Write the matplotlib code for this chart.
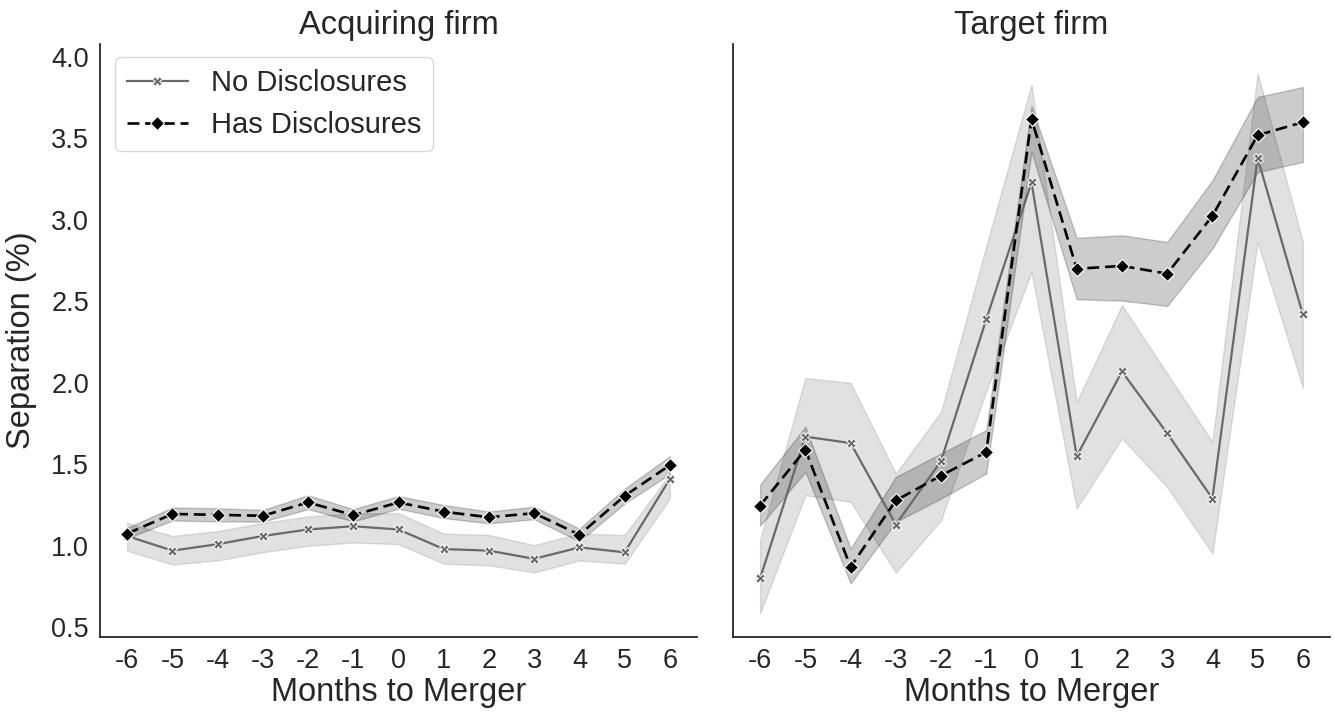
import matplotlib
matplotlib.use("Agg")
import matplotlib.pyplot as plt
import numpy as np

plt.rcParams['font.family'] = ['Liberation Sans', 'DejaVu Sans']

months = [-6, -5, -4, -3, -2, -1, 0, 1, 2, 3, 4, 5, 6]

# Acquiring firm: mean separation and confidence band
acq_none = [1.06, 0.97, 1.01, 1.06, 1.10, 1.12, 1.10, 0.98, 0.97, 0.92, 0.99, 0.96, 1.41]
acq_none_lo = [0.97, 0.885, 0.91, 0.96, 1.00, 1.02, 1.01, 0.89, 0.88, 0.836, 0.91, 0.89, 1.29]
acq_none_hi = [1.14, 1.06, 1.09, 1.14, 1.18, 1.20, 1.20, 1.075, 1.066, 1.004, 1.075, 1.066, 1.44]
acq_has = [1.075, 1.195, 1.19, 1.184, 1.266, 1.188, 1.266, 1.209, 1.175, 1.20, 1.068, 1.306, 1.495]
acq_has_lo = [1.045, 1.155, 1.15, 1.148, 1.225, 1.15, 1.228, 1.17, 1.138, 1.163, 1.028, 1.26, 1.44]
acq_has_hi = [1.11, 1.235, 1.23, 1.22, 1.31, 1.225, 1.305, 1.25, 1.21, 1.24, 1.105, 1.35, 1.55]

# Target firm: mean separation and confidence band
tgt_none = [0.80, 1.67, 1.63, 1.13, 1.52, 2.39, 3.23, 1.55, 2.07, 1.69, 1.29, 3.38, 2.42]
tgt_none_lo = [0.585, 1.31, 1.27, 0.836, 1.157, 1.95, 2.68, 1.23, 1.66, 1.36, 0.953, 2.865, 1.97]
tgt_none_hi = [1.035, 2.03, 2.00, 1.444, 1.822, 2.84, 3.83, 1.883, 2.477, 2.057, 1.638, 3.90, 2.865]
tgt_has = [1.247, 1.59, 0.87, 1.278, 1.431, 1.575, 3.62, 2.70, 2.718, 2.67, 3.025, 3.52, 3.60]
tgt_has_lo = [1.123, 1.454, 0.769, 1.147, 1.29, 1.444, 3.417, 2.513, 2.505, 2.472, 2.824, 3.294, 3.356]
tgt_has_hi = [1.376, 1.73, 0.983, 1.423, 1.566, 1.71, 3.70, 2.89, 2.906, 2.865, 3.243, 3.755, 3.816]

titles = ["Acquiring firm", "Target firm"]
series_labels = ["No Disclosures", "Has Disclosures"]

fig = plt.figure(figsize=(13.34, 7.17), dpi=100)
ax1 = fig.add_axes([100 / 1334, 80 / 717, 597 / 1334, 593 / 717])
ax2 = fig.add_axes([733 / 1334, 80 / 717, 597 / 1334, 593 / 717], sharey=ax1)

none_color = "#696969"
has_color = "black"
text_color = "#262626"


def draw_panel(ax, none, none_lo, none_hi, has, has_lo, has_hi, title):
    ax.fill_between(months, none_lo, none_hi, color=none_color, alpha=0.2,
                    linewidth=1, zorder=1)
    ax.fill_between(months, has_lo, has_hi, color=has_color, alpha=0.2,
                    linewidth=1, zorder=1)
    ax.plot(months, none, color=none_color, lw=1.6, marker='X', ms=6.5,
            mec='white', mew=0.7, label=series_labels[0], zorder=3)
    ax.plot(months, has, color=has_color, lw=1.9, ls=(0, (4.5, 2.2)), marker='D',
            ms=7.5, mec='white', mew=0.8, label=series_labels[1], zorder=4)
    ax.set_title(title, fontsize=23.5, color=text_color, pad=7)
    ax.set_xlim(-6.6, 6.6)
    ax.set_xticks(months)
    ax.set_xticklabels([str(m) for m in months])
    ax.set_xlabel("Months to Merger", fontsize=23.5, color=text_color, labelpad=2)
    ax.tick_params(axis='both', labelsize=19.5, colors=text_color, length=0, pad=8)
    for side in ['top', 'right']:
        ax.spines[side].set_visible(False)
    for side in ['left', 'bottom']:
        ax.spines[side].set_color("#262626")
        ax.spines[side].set_linewidth(1.3)


draw_panel(ax1, acq_none, acq_none_lo, acq_none_hi, acq_has, acq_has_lo, acq_has_hi, titles[0])
draw_panel(ax2, tgt_none, tgt_none_lo, tgt_none_hi, tgt_has, tgt_has_lo, tgt_has_hi, titles[1])

ax1.set_ylim(0.44, 4.08)
ax1.set_yticks([0.5, 1.0, 1.5, 2.0, 2.5, 3.0, 3.5, 4.0])
ax1.set_ylabel("Separation (%)", fontsize=23.5, color=text_color, labelpad=10)
ax2.tick_params(axis='y', labelleft=False)

leg = ax1.legend(loc='upper left', fontsize=21, frameon=True, borderpad=0.4,
                 handlelength=2.1, handletextpad=0.8, labelspacing=0.5,
                 borderaxespad=0, bbox_to_anchor=(0.025, 0.978))
leg.get_frame().set_edgecolor("#d0d0d0")
for t in leg.get_texts():
    t.set_color(text_color)

fig.savefig("out.png", dpi=100)
